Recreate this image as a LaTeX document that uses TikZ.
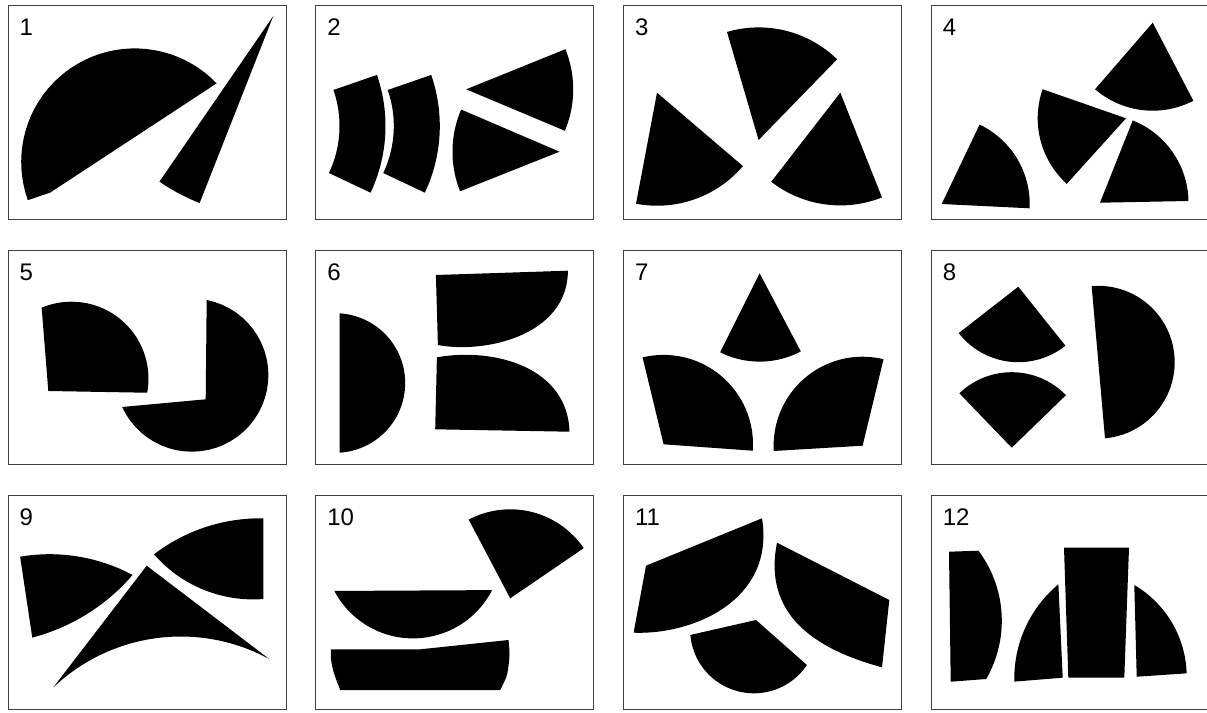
\documentclass[tikz,border=0pt]{standalone}
\usepackage{fontspec}
\setmainfont{Liberation Sans}

% arc piece of a path, centre (#1,#2), radius #3, from angle #4 to #5
\newcommand{\arcto}[5]{-- plot[domain=#4:#5,samples=40] ({#1+#3*cos(\x)},{#2+#3*sin(\x)})}
\newcommand{\pieslice}[5]{\fill (#1,#2) \arcto{#1}{#2}{#3}{#4}{#5} -- cycle;}

\tikzset{
  frame/.style={draw=black!75, line width=0.9pt},
  lbl/.style={font=\fontsize{24}{28}\selectfont, inner sep=0pt, anchor=base west},
}

\begin{document}
\begin{tikzpicture}[x=1pt,y=-1pt]
\useasboundingbox (0,0) rectangle (1207,712);
% frames and numbers
\foreach \n/\i/\j in {1/0/0,2/1/0,3/2/0,4/3/0,5/0/1,6/1/1,7/2/1,8/3/1,9/0/2,10/1/2,11/2/2,12/3/2} {
  \draw[frame] ({8+307.7*\i},{5+245*\j}) rectangle ++(278,214);
  \node[lbl] (lbl\n) at ({19.5+307.7*\i},{35.5+245*\j}) {\n};
}
% 1
\begin{scope}[shift={(8,5)}]
  \fill (42,187.7) \arcto{126.7}{156.9}{113.5}{-43.8}{-199.7} -- cycle;
  \pieslice{265.3}{11}{201}{124.5}{111.5}
\end{scope}
% 2
\begin{scope}[shift={(315.7,5)}]
  \foreach \cx in {-86.2,-31.9}
    \fill ({\cx+103.9},85) \arcto{\cx}{121}{156}{-19.1}{25.3} \arcto{\cx}{121}{110}{25.3}{-19.1} -- cycle;
  \pieslice{150.5}{84.3}{107}{-22}{22.8}
  \pieslice{243.8}{146.7}{107}{158.3}{203.2}
\end{scope}
% 3
\begin{scope}[shift={(623.3,5)}]
  \pieslice{135.3}{135}{112.6}{-106.3}{-45.8}
  \pieslice{33.7}{87.7}{113}{100.7}{40.5}
  \pieslice{217}{87.7}{112.7}{127.8}{68.3}
\end{scope}
% 4
\begin{scope}[shift={(931,5)}]
  \pieslice{221.7}{17.7}{88}{130.9}{62.5}
  \pieslice{195}{113.3}{88.3}{132.1}{199.2}
  \pieslice{169}{197.7}{88.5}{-68.3}{-1.1}
  \pieslice{10.7}{199}{88}{-64.5}{2.8}
\end{scope}
% 5
\begin{scope}[shift={(8,250)}]
  \fill (40.3,141) \arcto{63.5}{128.7}{77}{-112.8}{10.5} -- cycle;
  \fill (197.7,149.3) \arcto{183.8}{125.1}{76.6}{-78.8}{155.4} -- cycle;
\end{scope}
% 6
\begin{scope}[shift={(315.7,250)}]
  \fill (23.8,202.7) \arcto{19.7}{133}{69.8}{-86.6}{86.6} -- cycle;
  \fill (120.2,25) -- (252.2,20.7) .. controls (252,85) and (170,104) .. (122.2,95) -- cycle;
  \fill (119.5,179.3) -- (121.2,107.3) .. controls (180,97) and (252,118) .. (253.8,181.7) -- cycle;
\end{scope}
% 7
\begin{scope}[shift={(623.3,250)}]
  \pieslice{136.3}{23.3}{88.3}{116.5}{62.2}
  \pieslice{40.3}{194.3}{89.4}{-103.6}{4.1}
  \pieslice{239.3}{195.7}{89}{-76.4}{-183.4}
\end{scope}
% 8
\begin{scope}[shift={(931,250)}]
  \pieslice{87.3}{36.7}{75.5}{142.1}{51.4}
  \pieslice{80.7}{197.7}{75.5}{-133.9}{-44.1}
  \fill (174,188.3) \arcto{167.3}{112.2}{76.4}{-95}{85} -- cycle;
\end{scope}
% 9
\begin{scope}[shift={(8,495)}]
  \fill (24.3,142.7) \arcto{41.7}{234.7}{175.5}{-99.7}{-61.8} \arcto{-26.2}{-49.9}{199}{40.7}{75.3} -- cycle;
  \fill (255.3,104) \arcto{252.4}{198.6}{175.3}{-89}{-127.4} \arcto{245.1}{-27}{131.4}{139}{85.5} -- cycle;
  \fill (138.7,70.7) \arcto{172.8}{326.7}{185.2}{-61.5}{-133.5} -- cycle;
\end{scope}
% 10
\begin{scope}[shift={(315.7,495)}]
  \pieslice{194.5}{103.3}{89}{-117.8}{-34.3}
  \fill (176.4,95.1) \arcto{97.3}{54.5}{88.9}{152.2}{27.2} -- cycle;
  \fill (15.2,154.3) -- (104.5,154.3) -- plot[smooth] coordinates {(192.8,145) (193.8,160) (191.2,180) (184.5,195)}
    -- plot[smooth] coordinates {(24.5,195) (17.8,176.7) (15.2,163.3) (15.2,154.3)} -- cycle;
\end{scope}
% 11
\begin{scope}[shift={(623.3,495)}]
  \fill (22.7,70.7) -- (138.7,23.3) .. controls (152,105) and (70,140) .. (10.3,137.7) -- cycle;
  \fill (153.7,47.7) -- (266,105) -- (258.7,172.3) .. controls (188.7,153.4) and (139.7,117.7) .. (153.7,47.7) -- cycle;
  \fill (132.7,125) \arcto{130.6}{134.5}{63.8}{33.8}{175.1} -- cycle;
\end{scope}
% 12
\begin{scope}[shift={(931,495)}]
  \fill (19.7,186.7) -- (18,56.7) -- (47.3,55.7) \arcto{-45.8}{125.7}{116.6}{-36.9}{30} -- cycle;
  \fill (131.7,182.7) \arcto{205.8}{183.4}{122.5}{178.5}{230.2} -- cycle;
  \fill (133,52.7) -- (198,52.7) -- (193.3,182.7) -- (137.3,182.7) -- cycle;
  \fill (205.7,181.7) \arcto{149.3}{181.7}{106.4}{-59.5}{-1.8} -- cycle;
\end{scope}
\end{tikzpicture}
\end{document}
